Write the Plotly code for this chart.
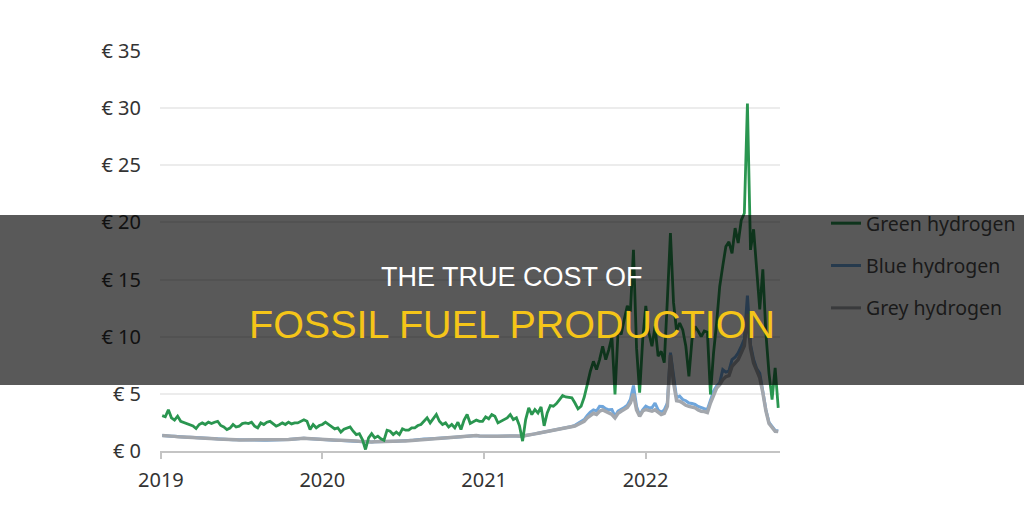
import pandas as pd
import plotly.graph_objects as go

start_date = "2019-01-04"
end_date = "2022-10-28"

green = [
    3.1, 3.0, 3.6, 2.9, 2.7, 3.05, 2.6, 2.5, 2.45, 2.35,
    2.2, 1.97, 2.32, 2.46, 2.32, 2.52, 2.4, 2.52, 2.6, 2.23,
    2.1, 1.88, 2.0, 2.32, 2.1, 2.17, 2.4, 2.46, 2.4, 2.52,
    2.17, 2.03, 2.46, 2.32, 2.52, 2.6, 2.37, 2.17, 2.3, 2.46,
    2.32, 2.52, 2.37, 2.46, 2.46, 2.6, 2.73, 2.6, 1.88, 2.32,
    2.03, 2.23, 2.32, 2.52, 2.3, 2.1, 1.94, 2.03, 1.65, 1.9,
    2.03, 2.1, 1.73, 1.44, 1.52, 1.0, 0.13, 1.15, 1.52, 1.15,
    1.3, 1.07, 0.94, 1.82, 1.73, 1.44, 1.65, 1.44, 1.94, 1.82,
    1.82, 2.03, 2.03, 2.23, 2.32, 2.6, 2.9, 2.46, 2.82, 3.19,
    2.6, 2.32, 2.46, 2.1, 2.32, 2.03, 2.52, 1.88, 2.7, 3.19,
    2.4, 2.52, 2.7, 2.6, 2.6, 2.99, 2.82, 3.19, 3.04, 2.46,
    2.6, 2.7, 2.9, 3.19, 2.75, 2.9, 2.2, 0.86, 2.75, 3.77,
    3.19, 3.63, 3.33, 3.86, 2.2, 3.33, 3.98, 3.92, 4.15, 4.5,
    4.85, 4.73, 4.7, 4.65, 4.2, 3.69, 3.92, 4.7, 5.81, 6.98,
    7.85, 7.12, 8.0, 9.16, 8.0, 8.87, 10.0, 4.94, 10.5, 10.2,
    11.5, 12.7, 12.2, 17.6, 9.0, 5.1, 9.75, 12.7, 10.35, 9.16,
    10.9, 8.3, 8.72, 7.73, 13.2, 19.07, 13.0, 10.5, 11.2, 10.6,
    9.16, 6.54, 9.75, 10.9, 10.5, 10.0, 10.5, 10.4, 4.94, 8.58,
    11.2, 14.4, 16.2, 17.9, 18.3, 17.3, 19.5, 18.2, 20.2, 20.8,
    30.4, 17.6, 19.4, 16.2, 12.4, 15.9, 10.3, 6.8, 4.5, 7.27,
    3.78,
]

blue = [
    1.35, 1.35, 1.32, 1.3, 1.28, 1.25, 1.25, 1.22, 1.2, 1.2,
    1.18, 1.15, 1.15, 1.12, 1.12, 1.1, 1.1, 1.08, 1.05, 1.05,
    1.02, 1.0, 1.0, 0.98, 0.98, 0.97, 0.97, 0.95, 0.95, 0.95,
    0.94, 0.94, 0.94, 0.95, 0.95, 0.95, 0.96, 0.96, 0.97, 0.97,
    0.98, 1.0, 1.02, 1.05, 1.12, 1.15, 1.12, 1.1, 1.08, 1.05,
    1.02, 1.0, 1.0, 0.98, 0.97, 0.96, 0.95, 0.95, 0.94, 0.94,
    0.93, 0.92, 0.9, 0.88, 0.85, 0.82, 0.8, 0.77, 0.78, 0.8,
    0.8, 0.82, 0.82, 0.84, 0.85, 0.85, 0.86, 0.87, 0.87, 0.88,
    0.9, 0.93, 0.96, 1.0, 1.02, 1.04, 1.05, 1.06, 1.07, 1.08,
    1.1, 1.12, 1.13, 1.15, 1.18, 1.2, 1.22, 1.25, 1.27, 1.3,
    1.32, 1.33, 1.35, 1.32, 1.3, 1.28, 1.27, 1.27, 1.28, 1.28,
    1.3, 1.3, 1.3, 1.3, 1.32, 1.32, 1.3, 1.3, 1.35, 1.42,
    1.48, 1.5, 1.55, 1.6, 1.65, 1.7, 1.75, 1.82, 1.88, 1.92,
    2.0, 2.05, 2.1, 2.15, 2.25, 2.4, 2.55, 2.75, 3.1, 3.4,
    3.6, 3.5, 3.92, 3.9, 3.7, 3.6, 3.63, 3.04, 3.5, 3.63,
    3.8, 4.0, 4.5, 5.73, 3.9, 3.1, 3.6, 3.92, 3.78, 3.78,
    4.2, 3.6, 3.4, 3.6, 4.2, 8.6, 6.4, 4.65, 4.8, 4.5,
    4.4, 4.2, 4.15, 4.07, 3.9, 3.78, 3.7, 3.63, 4.5, 5.23,
    5.7, 5.96, 7.12, 6.9, 7.0, 8.0, 8.2, 8.58, 9.16, 9.8,
    13.6, 9.3, 8.0, 7.2, 6.8, 5.3, 3.6, 2.5, 2.1, 1.8,
    1.75,
]

grey = [
    1.35, 1.35, 1.32, 1.3, 1.28, 1.25, 1.25, 1.22, 1.2, 1.2,
    1.18, 1.15, 1.15, 1.12, 1.12, 1.1, 1.1, 1.08, 1.05, 1.05,
    1.02, 1.0, 1.0, 0.98, 0.98, 0.97, 0.97, 0.95, 0.95, 0.95,
    0.94, 0.94, 0.94, 0.95, 0.95, 0.95, 0.96, 0.96, 0.97, 0.97,
    0.98, 1.0, 1.02, 1.05, 1.12, 1.15, 1.12, 1.1, 1.08, 1.05,
    1.02, 1.0, 1.0, 0.98, 0.97, 0.96, 0.95, 0.95, 0.94, 0.94,
    0.93, 0.92, 0.9, 0.88, 0.85, 0.82, 0.8, 0.77, 0.78, 0.8,
    0.8, 0.82, 0.82, 0.84, 0.85, 0.85, 0.86, 0.87, 0.87, 0.88,
    0.9, 0.93, 0.96, 1.0, 1.02, 1.04, 1.05, 1.06, 1.07, 1.08,
    1.1, 1.12, 1.13, 1.15, 1.18, 1.2, 1.22, 1.25, 1.27, 1.3,
    1.32, 1.33, 1.35, 1.32, 1.3, 1.28, 1.27, 1.27, 1.28, 1.28,
    1.3, 1.3, 1.3, 1.3, 1.32, 1.32, 1.3, 1.3, 1.35, 1.42,
    1.48, 1.5, 1.55, 1.6, 1.65, 1.7, 1.75, 1.82, 1.88, 1.92,
    1.98, 2.03, 2.06, 2.1, 2.18, 2.32, 2.45, 2.6, 2.9, 3.1,
    3.3, 3.2, 3.48, 3.6, 3.48, 3.3, 3.19, 2.9, 3.3, 3.48,
    3.63, 3.8, 4.2, 5.0, 3.6, 3.04, 3.5, 3.63, 3.55, 3.48,
    3.6, 3.36, 3.2, 3.3, 3.9, 8.4, 6.0, 4.4, 4.36, 4.2,
    4.0, 3.9, 3.85, 3.78, 3.6, 3.48, 3.45, 3.36, 4.2, 4.94,
    5.5, 5.8, 6.25, 6.5, 6.6, 7.4, 7.7, 8.0, 8.6, 9.2,
    12.0, 9.0, 7.7, 7.0, 6.4, 5.1, 3.5, 2.4, 2.0, 1.73,
    1.7,
]

series_names = ["Green hydrogen", "Blue hydrogen", "Grey hydrogen"]
year_ticks = ["2019-01-01", "2020-01-01", "2021-01-01", "2022-01-01"]
year_labels = ["2019", "2020", "2021", "2022"]
title_line1 = "THE TRUE COST OF"
title_line2 = "FOSSIL FUEL PRODUCTION"


def dates_for(values):
    return pd.date_range(start_date, end_date, periods=len(values))


GREEN = "#2a9650"
BLUE = "#6fa6dc"
GREY = "#a3a7ad"
OVERLAY_ALPHA = 0.65


def darken(hex_color, alpha=OVERLAY_ALPHA):
    h = hex_color.lstrip("#")
    r, g, b = (int(h[i:i + 2], 16) for i in (0, 2, 4))
    f = 1 - alpha
    return f"rgb({int(r * f)},{int(g * f)},{int(b * f)})"


fig = go.Figure()
fig.add_trace(go.Scatter(x=dates_for(blue), y=blue, mode="lines",
                         line=dict(color=BLUE, width=3), showlegend=False))
fig.add_trace(go.Scatter(x=dates_for(grey), y=grey, mode="lines",
                         line=dict(color=GREY, width=3.5), showlegend=False))
fig.add_trace(go.Scatter(x=dates_for(green), y=green, mode="lines",
                         line=dict(color=GREEN, width=2.8), showlegend=False))

# legend entries (shown under the dark banner, so use the darkened colours)
for i, (name, col) in enumerate(zip(series_names, [GREEN, BLUE, GREY])):
    fig.add_trace(go.Scatter(x=[None], y=[None], mode="lines", name=name,
                             legendgroup=name, legendrank=i + 1,
                             line=dict(color=darken(col), width=3)))

L, R, T, B = 160, 244, 51, 61
W, H = 1024, 512
pw, ph = W - L - R, H - T - B


def px_x(px):
    return (px - L) / pw


def px_y(py):
    return (H - B - py) / ph


fig.update_layout(
    width=W, height=H,
    margin=dict(l=L, r=R, t=T, b=B, autoexpand=False),
    paper_bgcolor="white", plot_bgcolor="white",
    font=dict(family="Noto Sans", color="#333333"),
    xaxis=dict(
        type="date", range=["2018-12-30", "2022-11-01"],
        tickvals=year_ticks, ticktext=year_labels,
        showgrid=False, zeroline=False,
        showline=True, linecolor="#c4c4c4", linewidth=1.5,
        ticks="outside", ticklen=6, tickcolor="#c4c4c4", tickwidth=1.5,
        tickfont=dict(size=20, color="#333333"),
        ticklabelstandoff=4,
    ),
    yaxis=dict(
        range=[0, 35], dtick=5, tickprefix="€ ",
        showgrid=True, gridcolor="#ececec", gridwidth=1.5,
        zeroline=False, showline=False, ticks="",
        tickfont=dict(size=20, color="#333333"),
        ticklabelstandoff=18,
    ),
    legend=dict(
        x=px_x(826), y=px_y(204), xanchor="left", yanchor="top",
        xref="paper", yref="paper",
        font=dict(family="Noto Sans", size=19.5, color="#1a1a1a"),
        bgcolor="rgba(0,0,0,0)", traceorder="grouped", tracegroupgap=14,
    ),
    shapes=[dict(
        type="rect", xref="paper", yref="paper", layer="above",
        x0=px_x(-20), x1=px_x(W + 20), y0=px_y(385), y1=px_y(215),
        fillcolor=f"rgba(0,0,0,{OVERLAY_ALPHA})", line=dict(width=0),
    )],
    annotations=[
        dict(text=title_line1, xref="paper", yref="paper",
             x=px_x(512), y=px_y(277), xanchor="center", yanchor="middle",
             showarrow=False,
             font=dict(family="Liberation Sans", size=27, color="white")),
        dict(text=title_line2, xref="paper", yref="paper",
             x=px_x(512), y=px_y(324), xanchor="center", yanchor="middle",
             showarrow=False,
             font=dict(family="Liberation Sans", size=39.5, color="#F5C518")),
    ],
)

fig.write_html("out.html")
